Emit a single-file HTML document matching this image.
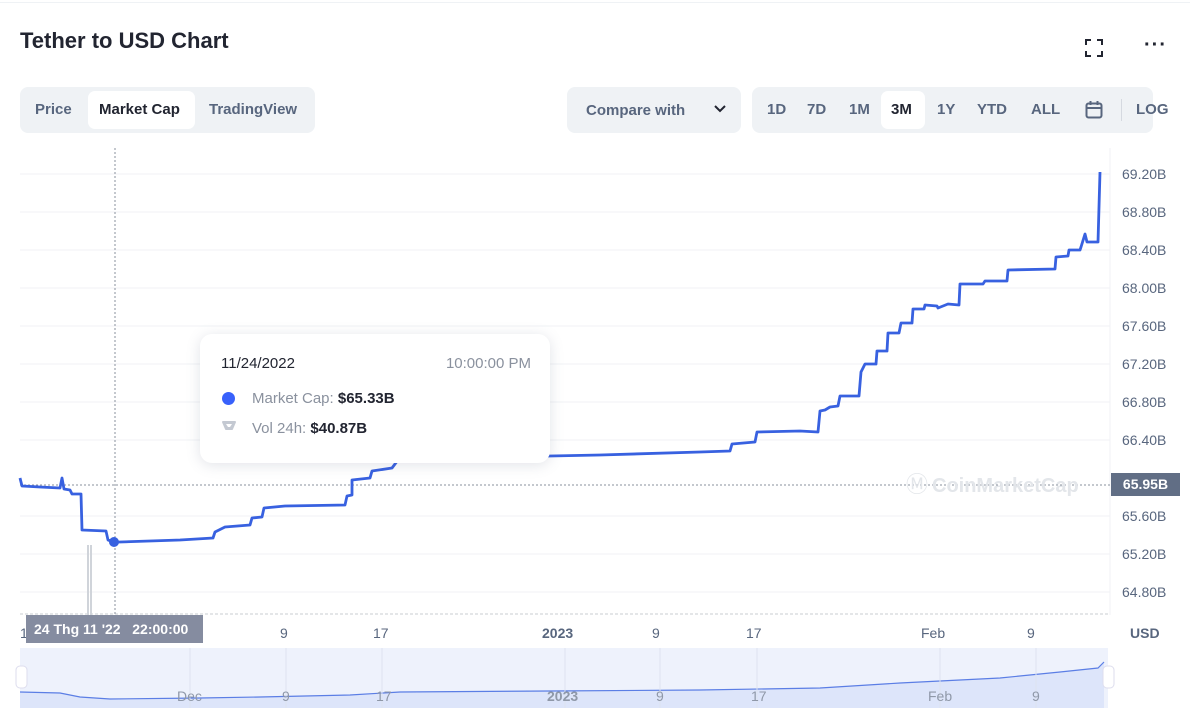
<!DOCTYPE html>
<html><head><meta charset="utf-8"><style>
body{margin:0;width:1190px;height:717px;background:#fff;font-family:"Liberation Sans",Arial,sans-serif;overflow:hidden;position:relative;color:#222531}
.a{position:absolute}
.grp{position:absolute;background:#eff2f5;border-radius:8px}
.btn{position:absolute;font-size:15px;font-weight:bold;color:#58667e;top:14px}
.yl{position:absolute;left:1122px;font-size:14px;color:#58667e}
.xl{position:absolute;top:625px;font-size:14px;color:#58667e}
</style></head><body>
<div class="a" style="left:0;top:2px;width:1190px;height:1px;background:#eff2f5"></div>
<div class="a" style="left:20px;top:28px;font-size:22px;font-weight:bold">Tether to USD Chart</div>
<svg class="a" style="left:1084px;top:38px" width="20" height="20"><path d="M2 7V2h5M13 2h5v5M18 13v5h-5M7 18H2v-5" stroke="#222531" stroke-width="2" fill="none"/></svg>
<div class="a" style="left:1144px;top:34px;font-size:20px;font-weight:bold;letter-spacing:1px">···</div>

<div class="grp" style="left:20px;top:87px;width:295px;height:46px"></div>
<div class="a" style="left:88px;top:91px;width:107px;height:38px;background:#fff;border-radius:7px"></div>
<div class="btn" style="left:35px;top:101px">Price</div>
<div class="btn" style="left:99px;top:101px;color:#222531">Market Cap</div>
<div class="btn" style="left:209px;top:101px">TradingView</div>

<div class="grp" style="left:567px;top:87px;width:174px;height:46px"></div>
<div class="btn" style="left:586px;top:102px">Compare with</div>
<svg class="a" style="left:713px;top:104px" width="14" height="10"><path d="M2 2l5 5 5-5" stroke="#222531" stroke-width="2" fill="none"/></svg>

<div class="grp" style="left:752px;top:87px;width:401px;height:46px"></div>
<div class="a" style="left:881px;top:91px;width:44px;height:38px;background:#fff;border-radius:7px"></div>
<div class="btn" style="left:767px;top:101px">1D</div>
<div class="btn" style="left:807px;top:101px">7D</div>
<div class="btn" style="left:849px;top:101px">1M</div>
<div class="btn" style="left:891px;top:101px;color:#222531">3M</div>
<div class="btn" style="left:937px;top:101px">1Y</div>
<div class="btn" style="left:977px;top:101px">YTD</div>
<div class="btn" style="left:1031px;top:101px">ALL</div>
<svg class="a" style="left:1085px;top:100px" width="18" height="20"><rect x="1.5" y="3.5" width="15" height="14" rx="2" stroke="#58667e" stroke-width="2" fill="none"/><path d="M1.5 8h15M5.5 1v4M12.5 1v4" stroke="#58667e" stroke-width="2"/></svg>
<div class="a" style="left:1121px;top:99px;width:1px;height:22px;background:#d5d9e0"></div>
<div class="btn" style="left:1136px;top:101px">LOG</div>

<svg class="a" style="left:0;top:0" width="1190" height="717">
<g stroke="#f0f2f5" stroke-width="1">
<line x1="20" x2="1110" y1="174" y2="174"/><line x1="20" x2="1110" y1="212" y2="212"/><line x1="20" x2="1110" y1="250" y2="250"/><line x1="20" x2="1110" y1="288" y2="288"/><line x1="20" x2="1110" y1="326" y2="326"/><line x1="20" x2="1110" y1="364" y2="364"/><line x1="20" x2="1110" y1="402" y2="402"/><line x1="20" x2="1110" y1="440" y2="440"/><line x1="20" x2="1110" y1="516" y2="516"/><line x1="20" x2="1110" y1="554" y2="554"/><line x1="20" x2="1110" y1="592" y2="592"/>
<line x1="1110" x2="1110" y1="148" y2="615"/>
</g>
<line x1="20" x2="1110" y1="614" y2="614" stroke="#c8ccd2" stroke-dasharray="3,2"/>
<line x1="20" x2="1110" y1="485" y2="485" stroke="#8a919e" stroke-dasharray="2,2"/>
<line x1="115" x2="115" y1="148" y2="615" stroke="#8a919e" stroke-dasharray="2,2"/>
<rect x="87" y="545" width="2" height="70" fill="#d0d4da"/><rect x="90" y="545" width="2" height="70" fill="#d0d4da"/>
<text x="906" y="492" font-size="22" fill="#e3e6ea" font-family="Liberation Sans">Ⓜ</text>
<text x="932" y="492" font-size="20" fill="#e3e6ea" font-family="Liberation Sans" font-weight="bold">CoinMarketCap</text>
<polyline fill="none" stroke="#3861e0" stroke-width="2.8" stroke-linejoin="round" points="20,478 22,486 40,487 60,488 62,478 64,489 70,490 72,494 81,494 82,530 106,531 108,540 114,542 120,542 180,540 213,538 215,532 225,527 250,525 252,518 262,517 264,508 285,506 345,505 347,496 352,495 352,480 370,478 372,471 392,468 398,460 430,458 550,456 600,455 700,452 730,451 732,444 755,442 757,432 800,431 818,432 820,411 825,410 830,407 838,406 840,396 859,396 861,372 865,364 876,364 877,351 887,351 888,333 899,333 901,323 912,323 913,309 924,309 925,305 937,306 938,308 948,304 959,305 960,284 983,284 985,281 1007,281 1008,270 1055,269 1056,257 1068,256 1069,250 1080,250 1081,247 1085,234 1087,242 1098,242 1100,172"/>
<circle cx="114" cy="542" r="5" fill="#3861e0"/>
<rect x="20" y="648" width="1088" height="60" fill="#eef2fc"/>
<polygon fill="#dde5fa" points="20,692 60,693 80,697 110,699 200,698 260,697 350,695 400,692 550,691 700,690 820,688 900,683 1000,678 1060,672 1098,668 1104,662 1104,708 20,708"/>
<polyline fill="none" stroke="#5b7ee5" stroke-width="1.2" points="20,692 60,693 80,697 110,699 200,698 260,697 350,695 400,692 550,691 700,690 820,688 900,683 1000,678 1060,672 1098,668 1104,662"/>
<g stroke="#dde3f0"><line x1="190" x2="190" y1="648" y2="708"/><line x1="286" x2="286" y1="648" y2="708"/><line x1="382" x2="382" y1="648" y2="708"/><line x1="565" x2="565" y1="648" y2="708"/><line x1="660" x2="660" y1="648" y2="708"/><line x1="757" x2="757" y1="648" y2="708"/><line x1="940" x2="940" y1="648" y2="708"/><line x1="1036" x2="1036" y1="648" y2="708"/></g>
<g font-size="14" fill="#8f98a8" font-family="Liberation Sans"><text x="177" y="701">Dec</text><text x="282" y="701">9</text><text x="376" y="701">17</text><text x="547" y="701" font-weight="bold">2023</text><text x="656" y="701">9</text><text x="751" y="701">17</text><text x="928" y="701">Feb</text><text x="1032" y="701">9</text></g>
<rect x="16" y="666" width="11" height="22" rx="4" fill="#fff" stroke="#dde"/>
<rect x="1103" y="666" width="11" height="22" rx="4" fill="#fff" stroke="#dde"/>
</svg>

<div class="yl" style="top:166px">69.20B</div>
<div class="yl" style="top:204px">68.80B</div>
<div class="yl" style="top:242px">68.40B</div>
<div class="yl" style="top:280px">68.00B</div>
<div class="yl" style="top:318px">67.60B</div>
<div class="yl" style="top:356px">67.20B</div>
<div class="yl" style="top:394px">66.80B</div>
<div class="yl" style="top:432px">66.40B</div>
<div class="yl" style="top:508px">65.60B</div>
<div class="yl" style="top:546px">65.20B</div>
<div class="yl" style="top:584px">64.80B</div>
<div class="a" style="left:1111px;top:473px;width:69px;height:23px;background:#616e85;color:#fff;font-size:14px;font-weight:bold;line-height:23px;text-align:center">65.95B</div>

<div class="xl" style="left:20px">1</div>
<div class="xl" style="left:280px">9</div>
<div class="xl" style="left:373px">17</div>
<div class="xl" style="left:542px;font-weight:bold;color:#58667e">2023</div>
<div class="xl" style="left:652px">9</div>
<div class="xl" style="left:746px">17</div>
<div class="xl" style="left:921px">Feb</div>
<div class="xl" style="left:1027px">9</div>
<div class="xl" style="left:1130px;font-weight:bold">USD</div>
<div class="a" style="left:26px;top:615px;width:177px;height:28px;background:#858ca0;color:#fff;font-size:14px;font-weight:bold;line-height:28px;padding-left:8px;box-sizing:border-box">24 Thg 11 '22&nbsp;&nbsp;&nbsp;22:00:00</div>

<div class="a" style="left:200px;top:334px;width:350px;height:129px;background:#fff;border-radius:12px;box-shadow:0 2px 14px rgba(88,102,126,0.18)">
<div class="a" style="left:21px;top:21px;font-size:15px">11/24/2022</div>
<div class="a" style="right:19px;top:21px;font-size:15px;color:#8a919e">10:00:00 PM</div>
<div class="a" style="left:22px;top:58px;width:13px;height:13px;border-radius:50%;background:#3861fb"></div>
<div class="a" style="left:52px;top:56px;font-size:15px;color:#8a919e">Market Cap: <b style="color:#222531">$65.33B</b></div>
<svg class="a" style="left:21px;top:86px" width="16" height="12"><path d="M2 2h12l-3 7H5z" fill="#c4c9d2" stroke="#c4c9d2" stroke-width="2" stroke-linejoin="round"/><path d="M5 4h6l-2 3H7z" fill="#fff"/></svg>
<div class="a" style="left:52px;top:86px;font-size:15px;color:#8a919e">Vol 24h: <b style="color:#222531">$40.87B</b></div>
</div>
</body></html>
